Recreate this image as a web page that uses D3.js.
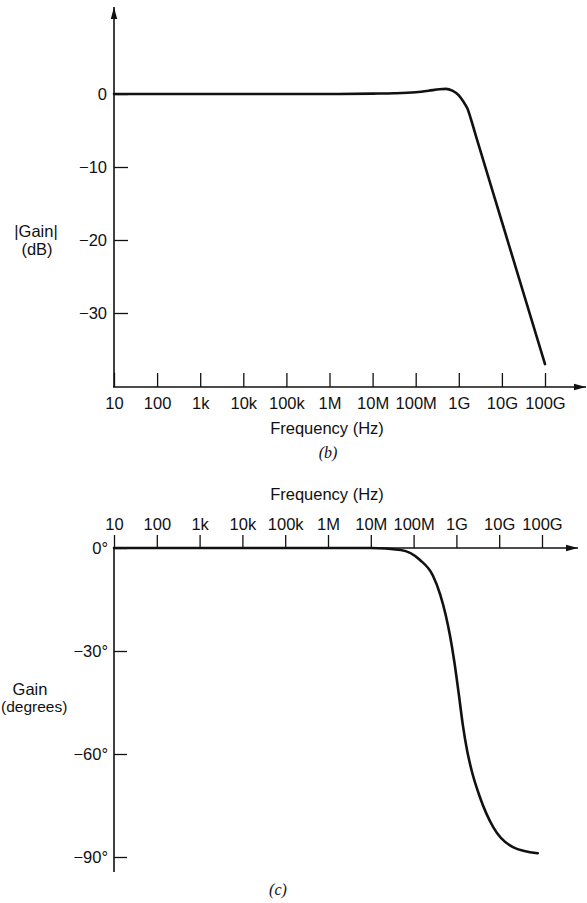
<!DOCTYPE html>
<html><head><meta charset="utf-8">
<script src="https://cdn.jsdelivr.net/npm/d3@7"></script>
<style>
html,body{margin:0;padding:0;background:#fff;}
svg{display:block;}
text{font-family:"Liberation Sans",Arial,Helvetica,sans-serif;fill:#111;}
</style></head>
<body>
<script>
// ---- data ----
const freqTicks = [1e1,1e2,1e3,1e4,1e5,1e6,1e7,1e8,1e9,1e10,1e11];
const freqLabels = ["10","100","1k","10k","100k","1M","10M","100M","1G","10G","100G"];
const gainTicks = [0,-10,-20,-30];
const phaseTicks = [0,-30,-60,-90];
// magnitude curve: log10(frequency) and |gain| in dB
const gainLogF = [1,2,3,4,5,6,7,7.5,8,8.3,8.55,8.7,8.85,9.0,9.1,9.2,9.3,9.4,10,11];
const gainDb   = [0,0,0,0,0,0,0.05,0.1,0.25,0.45,0.65,0.7,0.45,-0.2,-1.0,-2.0,-3.8,-5.8,-17.5,-37];
// phase curve: log10(frequency) and phase in degrees
const phaseLogF = [1,2,3,4,5,6,7,7.7,8.15,8.45,8.62,8.75,8.85,8.95,9.05,9.15,9.25,9.35,9.55,9.86,10.32,10.9];
const phaseDeg  = [0,0,0,0,0,0,0,-0.6,-3.5,-8,-13.5,-19.5,-25.5,-33,-42,-51.5,-59,-64.5,-72.6,-81.3,-87.1,-88.9];

const W = 587, H = 903;
const svg = d3.select("body").append("svg").attr("width",W).attr("height",H);
const defs = svg.append("defs");
defs.append("marker").attr("id","arrow").attr("viewBox","0 0 12 8")
  .attr("refX",12).attr("refY",4).attr("markerWidth",12).attr("markerHeight",8)
  .attr("markerUnits","userSpaceOnUse").attr("orient","auto")
  .append("path").attr("d","M0,0.8 L12,4 L0,7.2 Z").attr("fill","#111");

const FS = "16.5px";
const fmtF = d => freqLabels[freqTicks.indexOf(d)];

// ===== top chart (b) =====
const xT = d3.scaleLog().domain([1e1,1e11]).range([114,545]);
const yT = d3.scaleLinear().domain([0,-30]).range([94,313]);
const yT0 = 387;

const gT = svg.append("g");
const axT = gT.append("g").attr("transform",`translate(0,${yT0})`)
  .call(d3.axisBottom(xT).tickValues(freqTicks).tickFormat(fmtF).tickSizeInner(-14).tickSizeOuter(0).tickPadding(10.5));
axT.select(".domain").remove();
axT.selectAll(".tick line").attr("stroke","#111").attr("stroke-width",1.3);
axT.selectAll(".tick text").attr("font-size",FS).attr("font-family",null).attr("fill","#111");
const ayT = gT.append("g").attr("transform",`translate(114,0)`)
  .call(d3.axisLeft(yT).tickValues(gainTicks).tickFormat(d => d===0?"0":"\u2212"+Math.abs(d)).tickSizeInner(-14).tickSizeOuter(0).tickPadding(7));
ayT.select(".domain").remove();
ayT.selectAll(".tick line").attr("stroke","#111").attr("stroke-width",1.3);
ayT.selectAll(".tick text").attr("font-size",FS).attr("font-family",null).attr("fill","#111");
gT.append("line").attr("x1",114).attr("y1",yT0).attr("x2",114).attr("y2",7)
  .attr("stroke","#111").attr("stroke-width",1.6).attr("marker-end","url(#arrow)");
gT.append("line").attr("x1",113).attr("y1",yT0).attr("x2",586).attr("y2",yT0)
  .attr("stroke","#111").attr("stroke-width",1.6).attr("marker-end","url(#arrow)");
const lineT = d3.line().x((d,i)=>xT(Math.pow(10,gainLogF[i]))).y((d,i)=>yT(gainDb[i])).curve(d3.curveMonotoneX);
gT.append("path").attr("d",lineT(gainDb)).attr("fill","none").attr("stroke","#111").attr("stroke-width",2.6)
  .attr("stroke-linejoin","round").attr("stroke-linecap","round");
gT.append("text").attr("x",327).attr("y",434).attr("text-anchor","middle").attr("font-size",FS).text("Frequency (Hz)");
gT.append("text").attr("x",328).attr("y",458).attr("text-anchor","middle").attr("font-size","16px")
  .style("font-family","'Liberation Serif','Times New Roman',serif").style("font-style","italic").text("(b)");
gT.append("text").attr("x",36).attr("y",237).attr("text-anchor","middle").attr("font-size",FS).text("|Gain|");
gT.append("text").attr("x",37).attr("y",255).attr("text-anchor","middle").attr("font-size",FS).text("(dB)");

// ===== bottom chart (c) =====
const xB = d3.scaleLog().domain([1e1,1e11]).range([114,542]);
const yB = d3.scaleLinear().domain([0,-90]).range([548,857]);
const yB0 = 548;
const gB = svg.append("g");
const axB = gB.append("g").attr("transform",`translate(0,${yB0})`)
  .call(d3.axisTop(xB).tickValues(freqTicks).tickFormat(fmtF).tickSizeInner(13).tickSizeOuter(0).tickPadding(5));
axB.select(".domain").remove();
axB.selectAll(".tick line").attr("stroke","#111").attr("stroke-width",1.3);
axB.selectAll(".tick text").attr("font-size",FS).attr("font-family",null).attr("fill","#111");
const ayB = gB.append("g").attr("transform",`translate(114,0)`)
  .call(d3.axisLeft(yB).tickValues(phaseTicks).tickFormat(d => (d===0?"0":"\u2212"+Math.abs(d))+"\u00B0").tickSizeInner(-13).tickSizeOuter(0).tickPadding(6));
ayB.select(".domain").remove();
ayB.selectAll(".tick line").attr("stroke","#111").attr("stroke-width",1.3);
ayB.selectAll(".tick text").attr("font-size",FS).attr("font-family",null).attr("fill","#111");
gB.append("line").attr("x1",114).attr("y1",yB0).attr("x2",114).attr("y2",872)
  .attr("stroke","#111").attr("stroke-width",1.6);
gB.append("line").attr("x1",113).attr("y1",yB0).attr("x2",578).attr("y2",yB0)
  .attr("stroke","#111").attr("stroke-width",1.6).attr("marker-end","url(#arrow)");
const lineB = d3.line().x((d,i)=>xB(Math.pow(10,phaseLogF[i]))).y((d,i)=>yB(phaseDeg[i])).curve(d3.curveMonotoneX);
gB.append("path").attr("d",lineB(phaseDeg)).attr("fill","none").attr("stroke","#111").attr("stroke-width",2.6)
  .attr("stroke-linejoin","round").attr("stroke-linecap","round");
gB.append("text").attr("x",327).attr("y",500).attr("text-anchor","middle").attr("font-size",FS).text("Frequency (Hz)");
gB.append("text").attr("x",30).attr("y",695).attr("text-anchor","middle").attr("font-size",FS).text("Gain");
gB.append("text").attr("x",1).attr("y",712).attr("text-anchor","start").attr("font-size","15.5px").text("(degrees)");
gB.append("text").attr("x",278).attr("y",895).attr("text-anchor","middle").attr("font-size","16px")
  .style("font-family","'Liberation Serif','Times New Roman',serif").style("font-style","italic").text("(c)");
</script>
</body></html>
